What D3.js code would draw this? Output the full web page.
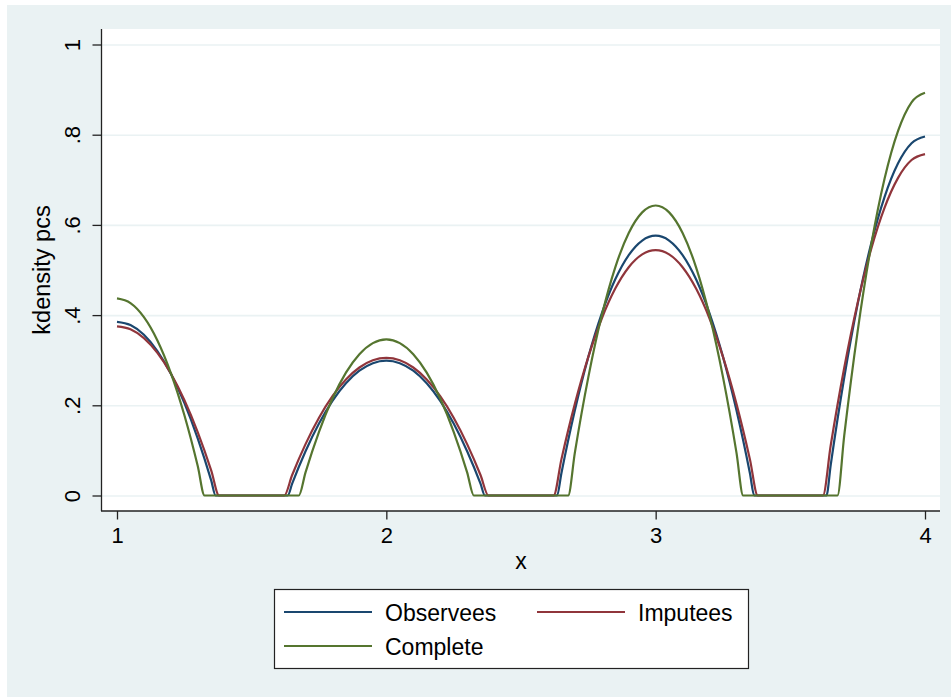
<!DOCTYPE html>
<html>
<head>
<meta charset="utf-8">
<script src="https://cdn.jsdelivr.net/npm/d3@7"></script>
<style>
  body { margin: 0; background: #fff; }
  svg { display: block; }
  text { font-family: "Liberation Sans", Arial, sans-serif; fill: #000; }
</style>
</head>
<body>
<div id="svg-container"></div>
<script>
////////////////////////////////////////////////////////////////////
////////////////////////////  Data  ////////////////////////////////
// [x, kdensity]
const observees = [
  [1, .385], [1.05, .3778], [1.1, .3563], [1.15, .3203], [1.2, .27], [1.25, .2054], [1.3, .1263], [1.35, .0329], [1.366, 0],
  [1.634, 0], [1.65, .0256], [1.7, .0981], [1.75, .1595], [1.8, .2097], [1.85, .2488], [1.9, .2767], [1.95, .2934], [2, .299],
  [2.05, .2934], [2.1, .2767], [2.15, .2488], [2.2, .2097], [2.25, .1595], [2.3, .0981], [2.35, .0256], [2.366, 0],
  [2.634, 0], [2.65, .0493], [2.7, .189], [2.75, .3073], [2.8, .404], [2.85, .4793], [2.9, .533], [2.95, .5652], [3, .576],
  [3.05, .5652], [3.1, .533], [3.15, .4793], [3.2, .404], [3.25, .3073], [3.3, .189], [3.35, .0493], [3.366, 0],
  [3.634, 0], [3.65, .0681], [3.7, .2612], [3.75, .4246], [3.8, .5583], [3.85, .6623], [3.9, .7366], [3.95, .7811], [4, .796]
];

const imputees = [
  [1, .375], [1.05, .3685], [1.1, .3489], [1.15, .3163], [1.2, .2706], [1.25, .2118], [1.3, .14], [1.35, .0552], [1.379, 0],
  [1.621, 0], [1.65, .0449], [1.7, .1139], [1.75, .1723], [1.8, .2201], [1.85, .2572], [1.9, .2838], [1.95, .2997], [2, .305],
  [2.05, .2997], [2.1, .2838], [2.15, .2572], [2.2, .2201], [2.25, .1723], [2.3, .1139], [2.35, .0449], [2.379, 0],
  [2.621, 0], [2.65, .0801], [2.7, .2031], [2.75, .3073], [2.8, .3925], [2.85, .4588], [2.9, .5061], [2.95, .5345], [3, .544],
  [3.05, .5345], [3.1, .5061], [3.15, .4588], [3.2, .3925], [3.25, .3073], [3.3, .2031], [3.35, .0801], [3.379, 0],
  [3.621, 0], [3.65, .1114], [3.7, .2827], [3.75, .4276], [3.8, .5462], [3.85, .6384], [3.9, .7043], [3.95, .7438], [4, .757]
];

const complete = [
  [1, .437], [1.05, .4267], [1.1, .3956], [1.15, .3439], [1.2, .2715], [1.25, .1784], [1.3, .0646], [1.325, 0],
  [1.675, 0], [1.7, .0512], [1.75, .1413], [1.8, .215], [1.85, .2723], [1.9, .3132], [1.95, .3378], [2, .346],
  [2.05, .3378], [2.1, .3132], [2.15, .2723], [2.2, .215], [2.25, .1413], [2.3, .0512], [2.325, 0],
  [2.675, 0], [2.7, .0951], [2.75, .2625], [2.8, .3995], [2.85, .506], [2.9, .5821], [2.95, .6278], [3, .643],
  [3.05, .6278], [3.1, .5821], [3.15, .506], [3.2, .3995], [3.25, .2625], [3.3, .0951], [3.325, 0],
  [3.675, 0], [3.7, .1321], [3.75, .3646], [3.8, .5548], [3.85, .7028], [3.9, .8085], [3.95, .8719], [4, .893]
];

const seriesNames = ["Observees", "Imputees", "Complete"];
const xTicks = [1, 2, 3, 4];
const xTickLabels = ["1", "2", "3", "4"];
const yTicks = [0, 0.2, 0.4, 0.6, 0.8, 1];
const yTickLabels = ["0", ".2", ".4", ".6", ".8", "1"];

////////////////////////////////////////////////////////////////////
////////////////////////////  Init  ////////////////////////////////
const width = 951;
const height = 697;
const plot = { left: 102, right: 940, top: 29, bottom: 511 };
const colors = ["#1a476f", "#90353b", "#55752f"];

const svg = d3.select("#svg-container").append("svg")
  .attr("width", width)
  .attr("height", height);

// graph region (light blue) and plot region (white)
svg.append("rect")
  .attr("x", 7).attr("y", 5)
  .attr("width", width - 7).attr("height", height - 5)
  .attr("fill", "#eaf2f3");

svg.append("rect")
  .attr("x", plot.left).attr("y", plot.top)
  .attr("width", plot.right - plot.left).attr("height", plot.bottom - plot.top)
  .attr("fill", "#fff");

// scale
const xScale = d3.scaleLinear().domain([1, 4]).range([117, 925]);
const yScale = d3.scaleLinear().domain([0, 1]).range([495.5, 44.5]);

////////////////////////////////////////////////////////////////////
////////////////////////////  Axes  ////////////////////////////////
// grid
const grid = svg.append("g")
  .attr("transform", `translate(${plot.left},0)`)
  .call(d3.axisLeft(yScale).tickValues(yTicks).tickSize(-(plot.right - plot.left)).tickFormat(""));
grid.select(".domain").remove();
grid.selectAll("line").attr("stroke", "#eaf2f3").attr("stroke-width", 1.6);

// y axis
const yAxis = svg.append("g")
  .attr("transform", `translate(${plot.left - 0.5},0)`)
  .call(d3.axisLeft(yScale).tickValues(yTicks).tickSize(9)
    .tickFormat((d, i) => yTickLabels[i]));
yAxis.select(".domain").remove();
yAxis.selectAll("line").attr("stroke", "#222").attr("stroke-width", 1.3);
yAxis.selectAll("text")
  .attr("transform", "rotate(-90)")
  .attr("x", 0).attr("y", -21.5).attr("dy", 0)
  .attr("text-anchor", "middle")
  .style("font-size", "22px");

// x axis
const xAxis = svg.append("g")
  .attr("transform", `translate(0,${plot.bottom})`)
  .call(d3.axisBottom(xScale).tickValues(xTicks).tickSize(8.5).tickPadding(8)
    .tickFormat((d, i) => xTickLabels[i]));
xAxis.select(".domain").remove();
xAxis.selectAll("line").attr("stroke", "#222").attr("stroke-width", 1.3);
xAxis.selectAll("text").style("font-size", "22px");

// axis lines
svg.append("line")
  .attr("x1", plot.left - 0.5).attr("x2", plot.left - 0.5)
  .attr("y1", plot.top).attr("y2", plot.bottom)
  .attr("stroke", "#222").attr("stroke-width", 1.3);
svg.append("line")
  .attr("x1", plot.left - 1).attr("x2", plot.right)
  .attr("y1", plot.bottom).attr("y2", plot.bottom)
  .attr("stroke", "#222").attr("stroke-width", 1.3);

// titles
svg.append("text")
  .attr("transform", `translate(50,${(plot.top + plot.bottom) / 2}) rotate(-90)`)
  .attr("text-anchor", "middle")
  .style("font-size", "23.5px")
  .text("kdensity pcs");

svg.append("text")
  .attr("x", (plot.left + plot.right) / 2)
  .attr("y", 569)
  .attr("text-anchor", "middle")
  .style("font-size", "23px")
  .text("x");

////////////////////////////////////////////////////////////////////
////////////////////////////  Lines  ///////////////////////////////
const line = d3.line()
  .x((d) => xScale(d[0]))
  .y((d) => yScale(d[1]))
  .curve(d3.curveMonotoneX);

svg.selectAll(".kd-line")
  .data([observees, imputees, complete])
  .enter()
  .append("path")
  .attr("class", "kd-line")
  .attr("d", line)
  .attr("fill", "none")
  .attr("stroke", (d, i) => colors[i])
  .attr("stroke-width", 2.2)
  .attr("stroke-linejoin", "round");

////////////////////////////////////////////////////////////////////
////////////////////////////  Legend  //////////////////////////////
svg.append("rect")
  .attr("x", 274.5).attr("y", 589.5)
  .attr("width", 474).attr("height", 79)
  .attr("fill", "#fff")
  .attr("stroke", "#222").attr("stroke-width", 1.2);

const legendPos = [
  { x: 284, y: 612 },
  { x: 537, y: 612 },
  { x: 284, y: 646 }
];

const legend = svg.selectAll(".legend-item")
  .data(seriesNames)
  .enter()
  .append("g")
  .attr("class", "legend-item")
  .attr("transform", (d, i) => `translate(${legendPos[i].x},${legendPos[i].y})`);

legend.append("line")
  .attr("x1", 0).attr("x2", 88)
  .attr("stroke", (d, i) => colors[i])
  .attr("stroke-width", 2.2);

legend.append("text")
  .attr("x", 101)
  .attr("y", 9)
  .style("font-size", "23px")
  .text((d) => d);
</script>
</body>
</html>
